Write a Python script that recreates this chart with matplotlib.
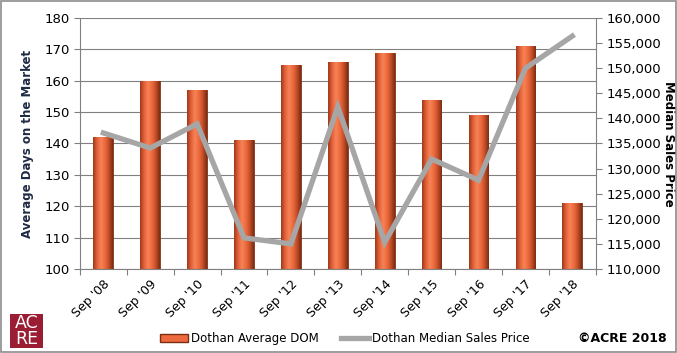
import numpy as np
import matplotlib.pyplot as plt
from matplotlib.lines import Line2D
from matplotlib.patches import Patch, Rectangle
from matplotlib.colors import LinearSegmentedColormap
from matplotlib.ticker import FuncFormatter

categories = ["Sep '08", "Sep '09", "Sep '10", "Sep '11", "Sep '12", "Sep '13",
              "Sep '14", "Sep '15", "Sep '16", "Sep '17", "Sep '18"]
avg_dom = [142, 160, 157, 141, 165, 166, 169, 154, 149, 171, 121]
median_price = [137100, 134100, 138900, 116200, 115000, 142300,
                115300, 131900, 127700, 150000, 156400]

bar_color = '#EE6A3E'
bar_edge = '#7A2E14'
line_color = '#A6A6A6'
grid_color = '#808080'

# degradé horizontal pour l'effet cylindre
bar_cmap = LinearSegmentedColormap.from_list(
    'bar', ['#9E3A18', '#E4603A', '#F58456', '#EE6A3E', '#C24E28', '#7E2C12'])
grad = np.linspace(0, 1, 64).reshape(1, -1)

fig = plt.figure(figsize=(6.77, 3.53), dpi=100)
ax = fig.add_axes([0.118, 0.238, 0.762, 0.711])
x = np.arange(len(categories))

# barres DOM
bars = ax.bar(x, np.array(avg_dom) - 100, bottom=100, width=0.42, color=bar_color,
              edgecolor=bar_edge, linewidth=0.6, zorder=2)
for b in bars:
    x0, y0, w, h = b.get_x(), b.get_y(), b.get_width(), b.get_height()
    im = ax.imshow(grad, cmap=bar_cmap, aspect='auto', extent=(x0, x0 + w, y0, y0 + h),
                   zorder=2.1, interpolation='bilinear')
    im.set_clip_path(b)
ax.set_ylim(100, 180)
ax.set_xlim(-0.5, len(categories) - 0.5)
ax.set_yticks(range(100, 181, 10))
ax.yaxis.grid(True, color=grid_color, linewidth=0.8, zorder=0)
ax.set_axisbelow(True)
ax.set_xticks(np.arange(-0.5, len(categories), 1), minor=False)
ax.set_xticklabels([])
ax.set_xticks(x, minor=True)
ax.set_xticklabels(categories, minor=True, rotation=45, ha='right',
                   rotation_mode='anchor', fontsize=9)
ax.tick_params(axis='x', which='minor', length=0, pad=6)
ax.tick_params(axis='x', which='major', length=4, color=grid_color)
ax.tick_params(axis='y', length=4, color=grid_color, labelsize=9.5)
for s in ['top', 'right']:
    ax.spines[s].set_visible(False)
for s in ['left', 'bottom']:
    ax.spines[s].set_color(grid_color)
ax.set_ylabel('Average Days on the Market', fontsize=8.5, fontweight='bold',
              color='#1F2A44', labelpad=7)

# ligne prix median
ax2 = ax.twinx()
ax2.plot(x, median_price, color=line_color, linewidth=3.8, solid_joinstyle='miter', zorder=3)
ax2.set_ylim(110000, 160000)
ax2.set_yticks(range(110000, 160001, 5000))
ax2.yaxis.set_major_formatter(FuncFormatter(lambda v, p: f"{int(v):,}"))
ax2.tick_params(axis='y', length=4, color=grid_color, labelsize=9.5)
for s in ['top', 'left', 'bottom']:
    ax2.spines[s].set_visible(False)
ax2.spines['right'].set_color(grid_color)
ax2.set_ylabel('Median Sales Price', fontsize=8.5, fontweight='bold',
               rotation=270, labelpad=10)

# legende
handles = [Patch(facecolor=bar_color, edgecolor=bar_edge, label='Dothan Average DOM'),
           Line2D([0], [0], color=line_color, linewidth=3.8, label='Dothan Median Sales Price')]
fig.legend(handles=handles, loc='center', bbox_to_anchor=(0.509, 0.04), ncol=2,
           frameon=False, fontsize=8.5, handlelength=2.4, columnspacing=1.9,
           handletextpad=0.2)

# logo ACRE
fig.patches.append(Rectangle((10 / 677, 1 - 348 / 353), 33 / 677, 34 / 353,
                             transform=fig.transFigure, facecolor='#9B1D34',
                             edgecolor='none'))
fig.text(26.5 / 677, 1 - 331 / 353, 'AC\nRE', color='white', fontsize=12.5,
         ha='center', va='center', linespacing=0.85)
fig.text(0.985, 0.04, '\u00a9ACRE 2018', fontsize=9, fontweight='bold',
         ha='right', va='center')

# bordure
fig.patches.append(Rectangle((0.002, 0.003), 0.996, 0.994, transform=fig.transFigure,
                             facecolor='none', edgecolor='#8C8C8C', linewidth=1.2))

fig.savefig('out.png', dpi=100)
